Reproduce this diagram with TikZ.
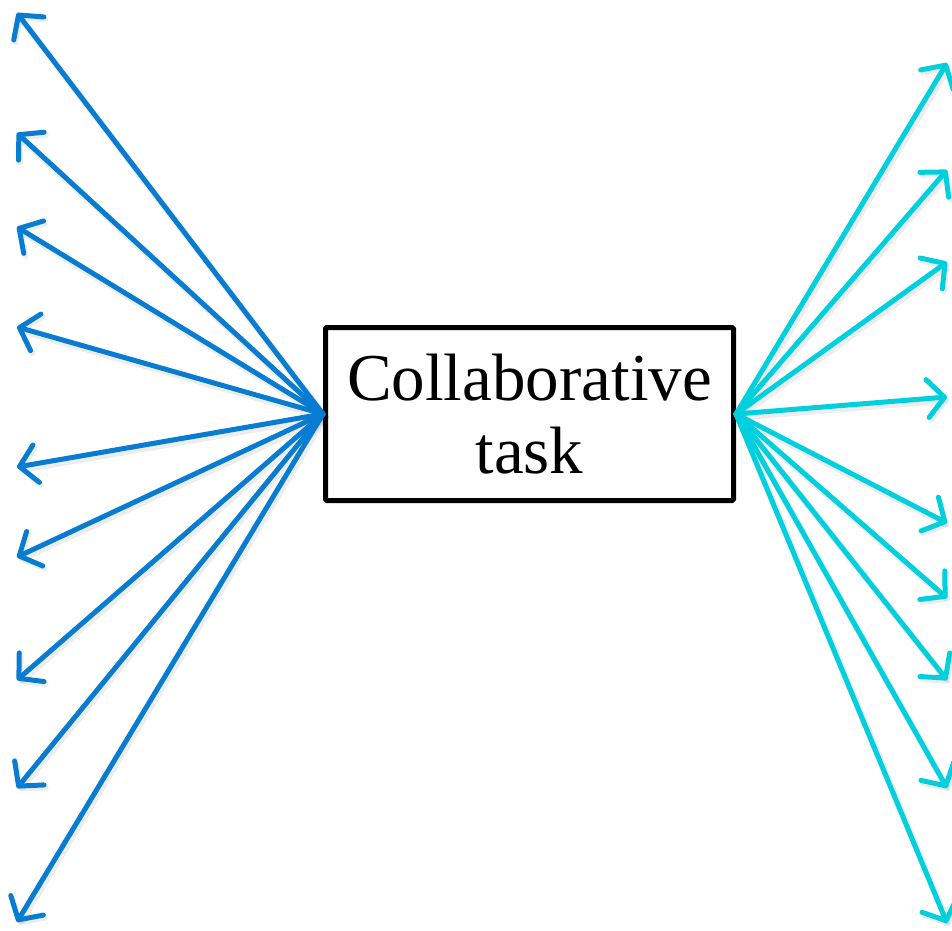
\documentclass[tikz,border=0pt]{standalone}
\usepackage{fontspec}
\setmainfont{Liberation Serif}
\usetikzlibrary{arrows.meta}
\definecolor{leftblue}{RGB}{8,124,208}
\definecolor{rightcyan}{RGB}{0,208,222}
\tikzset{
  barb/.style={-{Straight Barb[length=17pt,width=38pt,line width=5pt,line cap=round,line join=round]}},
  ray/.style={line width=5pt, line cap=round, barb},
  rayshadow/.style={line width=7pt, line cap=round, draw=black, draw opacity=0.07, barb,
    transform canvas={shift={(2pt,-3pt)}}},
  taskbox/.style={draw=black, line width=5pt, rounded corners=1.5pt, fill=white,
    minimum width=408pt, minimum height=173pt, inner sep=0pt, align=center,
    font=\fontsize{67}{73}\selectfont}
}
\begin{document}
\begin{tikzpicture}[x=1pt,y=-1pt]
\useasboundingbox (0,0) rectangle (952,930);
% outer ends of the rays
\foreach \n/\y in {1/13,2/133,3/227,4/327,5/467,6/557,7/680,8/788,9/922}
  \coordinate (l\n) at (17,\y);
\foreach \n/\y in {1/63,2/170,3/262,4/397,5/523,6/598,7/680,8/788,9/923}
  \coordinate (r\n) at (947,\y);
% central box
\node[taskbox] (task) at (529.5,414) {Collaborative\\task};
% soft shadows under the rays
\foreach \n in {1,...,9} {
  \draw[rayshadow] (task.west) -- (l\n);
  \draw[rayshadow] (task.east) -- (r\n);
}
% rays
\foreach \n in {1,...,9} {
  \draw[ray, leftblue] (task.west) -- (l\n);
  \draw[ray, rightcyan] (task.east) -- (r\n);
}
\end{tikzpicture}
\end{document}
